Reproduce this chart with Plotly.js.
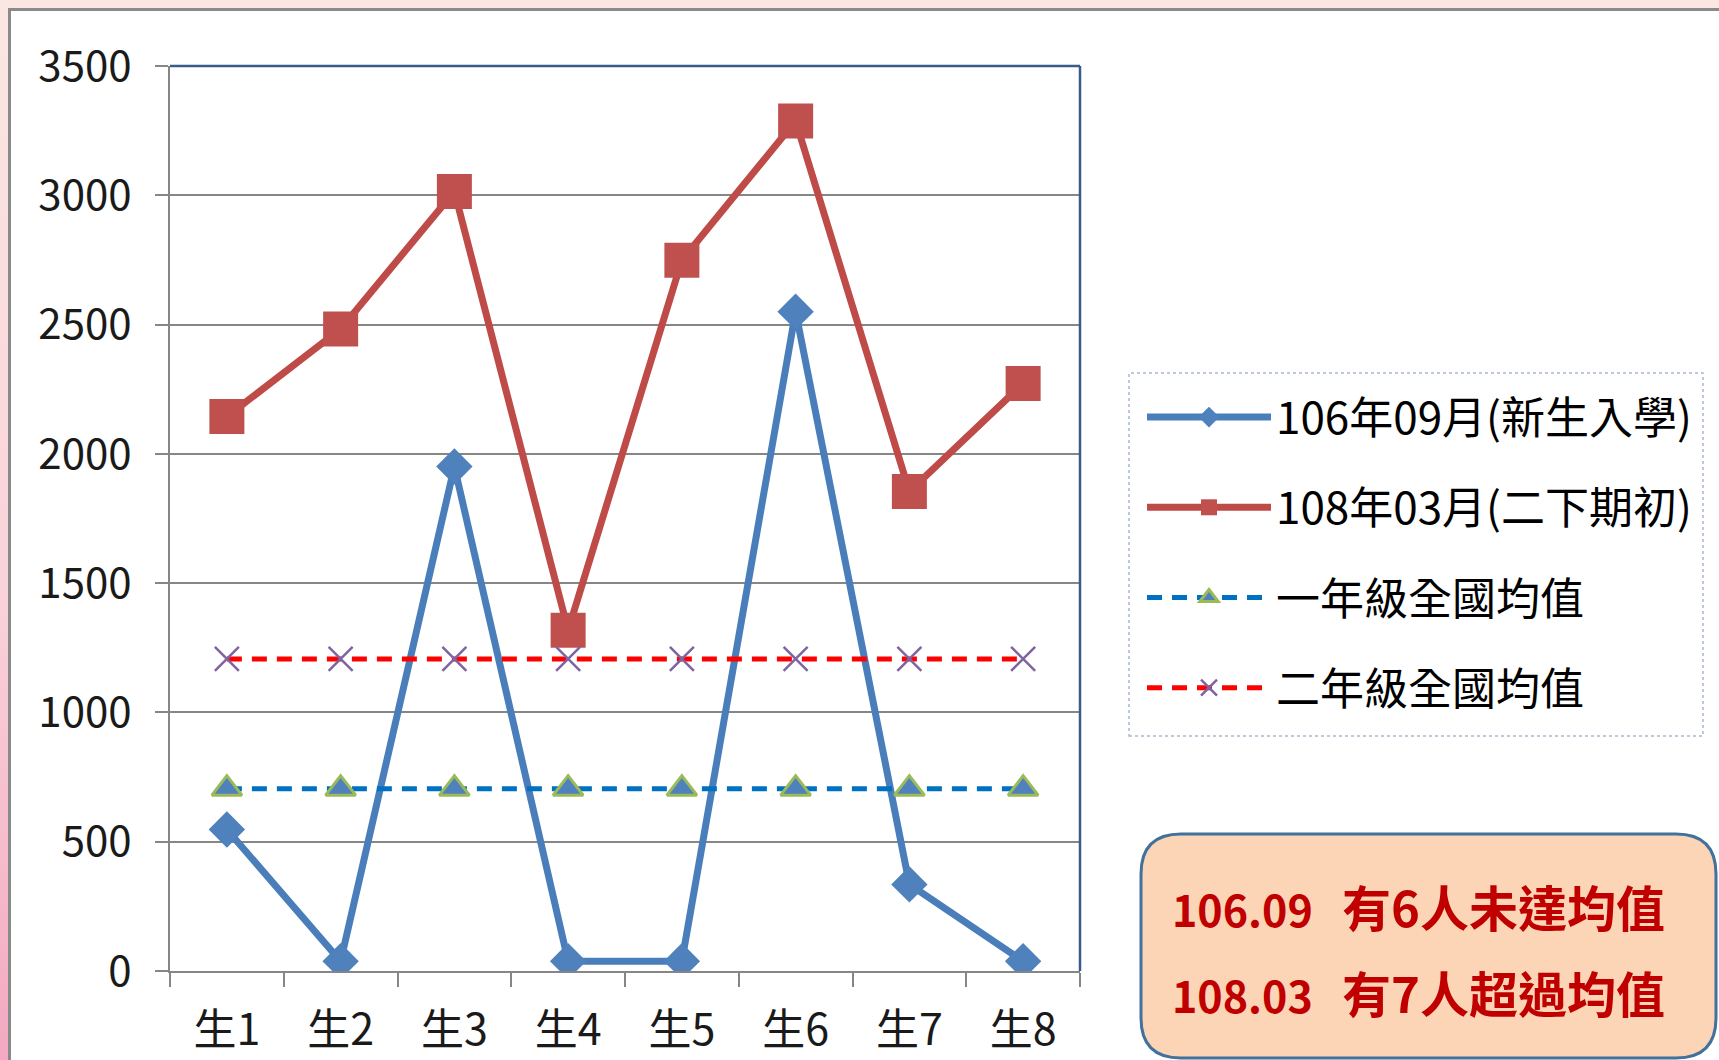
<!DOCTYPE html>
<html>
<head>
<meta charset="utf-8">
<script src="https://cdn.plot.ly/plotly-3.0.1.min.js"></script>
<style>
html,body{margin:0;padding:0;width:1719px;height:1060px;overflow:hidden;}
body{background:linear-gradient(to bottom,#fbe7e1 0%,#f9d3da 55%,#f3a9c1 100%);position:relative;}
#frame{position:absolute;left:8px;top:8px;width:1711px;height:1052px;background:#ffffff;border-left:3px solid #8a8a8a;border-top:3px solid #8a8a8a;box-sizing:border-box;}
#chart{position:absolute;left:0;top:0;width:1719px;height:1060px;}
</style>
</head>
<body>
<div id="frame"></div>
<div id="chart"></div>
<script>
// ---- data ----
const categories = ['生1', '生2', '生3', '生4', '生5', '生6', '生7', '生8'];
const score10609 = [547, 38, 1951, 38, 38, 2550, 335, 38];
const score10803 = [2144, 2483, 3015, 1318, 2749, 3287, 1854, 2272];
const avgGrade1 = [705, 705, 705, 705, 705, 705, 705, 705];
const avgGrade2 = [1207, 1207, 1207, 1207, 1207, 1207, 1207, 1207];
const seriesNames = ['106年09月(新生入學)', '108年03月(二下期初)', '一年級全國均值', '二年級全國均值'];
const yTickValues = [0, 500, 1000, 1500, 2000, 2500, 3000, 3500];
const noteDates = ['106.09', '108.03'];
const noteTexts = ['有6人未達均值', '有7人超過均值'];

// ---- geometry helpers (page pixels -> paper coords) ----
const W = 1719, H = 1060, ML = 170, MR = 639, MT = 66, MB = 89;
const PW = W - ML - MR, PH = H - MT - MB;
const px = x => (x - ML) / PW;
const py = y => (H - MB - y) / PH;

const FONT = 'Noto Sans CJK TC, sans-serif';

const traces = [
  {x: categories, y: score10609, name: seriesNames[0], type: 'scatter', mode: 'lines+markers', legendgroup: 'a',
   line: {color: '#4a7ebb', width: 7}, marker: {symbol: 'diamond', size: 28, color: '#4f81bd'}},
  {x: categories, y: score10803, name: seriesNames[1], type: 'scatter', mode: 'lines+markers', legendgroup: 'b',
   line: {color: '#be4b48', width: 7}, marker: {symbol: 'square', size: 35, color: '#c0504d'}},
  {x: categories, y: avgGrade1, name: seriesNames[2], type: 'scatter', mode: 'lines+markers', legendgroup: 'c',
   line: {color: '#0070c0', width: 5, dash: '15px,10px'},
   marker: {symbol: 'triangle-up', size: 26, color: '#4f81bd', line: {color: '#9bbb59', width: 3}}},
  {x: categories, y: avgGrade2, name: seriesNames[3], type: 'scatter', mode: 'lines+markers', legendgroup: 'd',
   line: {color: '#ff0000', width: 5, dash: '15px,10px'},
   marker: {symbol: 'x-thin', size: 24, color: '#8064a2', line: {color: '#8064a2', width: 2.5}}}
];

// rounded box for the note
const bx0 = px(1141), bx1 = px(1716), by0 = py(1058), by1 = py(834);
const rx = 40 / PW, ry = 40 / PH;
const boxPath = `M${bx0 + rx},${by1} L${bx1 - rx},${by1} Q${bx1},${by1} ${bx1},${by1 - ry} L${bx1},${by0 + ry} Q${bx1},${by0} ${bx1 - rx},${by0} L${bx0 + rx},${by0} Q${bx0},${by0} ${bx0},${by0 + ry} L${bx0},${by1 - ry} Q${bx0},${by1} ${bx0 + rx},${by1} Z`;

const layout = {
  width: W, height: H,
  margin: {l: ML, r: MR, t: MT, b: MB, pad: 0},
  paper_bgcolor: 'rgba(0,0,0,0)',
  plot_bgcolor: '#ffffff',
  showlegend: true,
  font: {family: FONT, color: '#1a1a1a'},
  xaxis: {
    type: 'category', range: [-0.5, 7.5],
    showline: true, linecolor: '#868686', linewidth: 2,
    showgrid: false, zeroline: false,
    ticks: 'outside', tickson: 'boundaries', ticklen: 14, tickwidth: 2, tickcolor: '#868686',
    tickfont: {family: FONT, size: 43, color: '#1a1a1a'}, ticklabelstandoff: 20
  },
  yaxis: {
    range: [0, 3500], tickvals: yTickValues, ticktext: yTickValues.map(String),
    showline: true, linecolor: '#868686', linewidth: 2,
    showgrid: true, gridcolor: '#868686', gridwidth: 2, zeroline: false,
    ticks: 'outside', ticklen: 13, tickwidth: 2, tickcolor: '#868686',
    tickfont: {family: FONT, size: 42, color: '#1a1a1a'}, ticklabelstandoff: 15
  },
  legend: {
    x: px(1142), xanchor: 'left', y: py(382), yanchor: 'top',
    bgcolor: 'rgba(0,0,0,0)', borderwidth: 0,
    font: {family: FONT, size: 44, color: '#000000'},
    itemwidth: 124, tracegroupgap: 30, traceorder: 'grouped'
  },
  shapes: [
    {type: 'line', xref: 'paper', yref: 'paper', x0: 0, x1: 1, y0: 1, y1: 1, line: {color: '#385d8a', width: 2.5}},
    {type: 'line', xref: 'paper', yref: 'paper', x0: 1, x1: 1, y0: 0, y1: 1, line: {color: '#385d8a', width: 2.5}},
    {type: 'rect', xref: 'paper', yref: 'paper', x0: px(1129), x1: px(1703), y0: py(736), y1: py(373),
     line: {color: '#a9b8d4', width: 1.5, dash: 'dot'}, fillcolor: 'rgba(0,0,0,0)'},
    {type: 'path', xref: 'paper', yref: 'paper', path: boxPath,
     line: {color: '#41719c', width: 3}, fillcolor: '#fbd5b5'}
  ],
  annotations: noteDates.map((d, i) => ({
    xref: 'paper', yref: 'paper', x: px(1170), y: py(i === 0 ? 905 : 991),
    xanchor: 'left', yanchor: 'middle', showarrow: false,
    text: '<span style="font-size:43px">' + d + '\u00a0\u00a0\u00a0</span>' + noteTexts[i],
    font: {family: 'Noto Sans CJK TC, sans-serif', size: 49, color: '#c00000', weight: 'bold'}
  }))
};

Plotly.newPlot('chart', traces, layout, {displayModeBar: false, staticPlot: true});
</script>
</body>
</html>
